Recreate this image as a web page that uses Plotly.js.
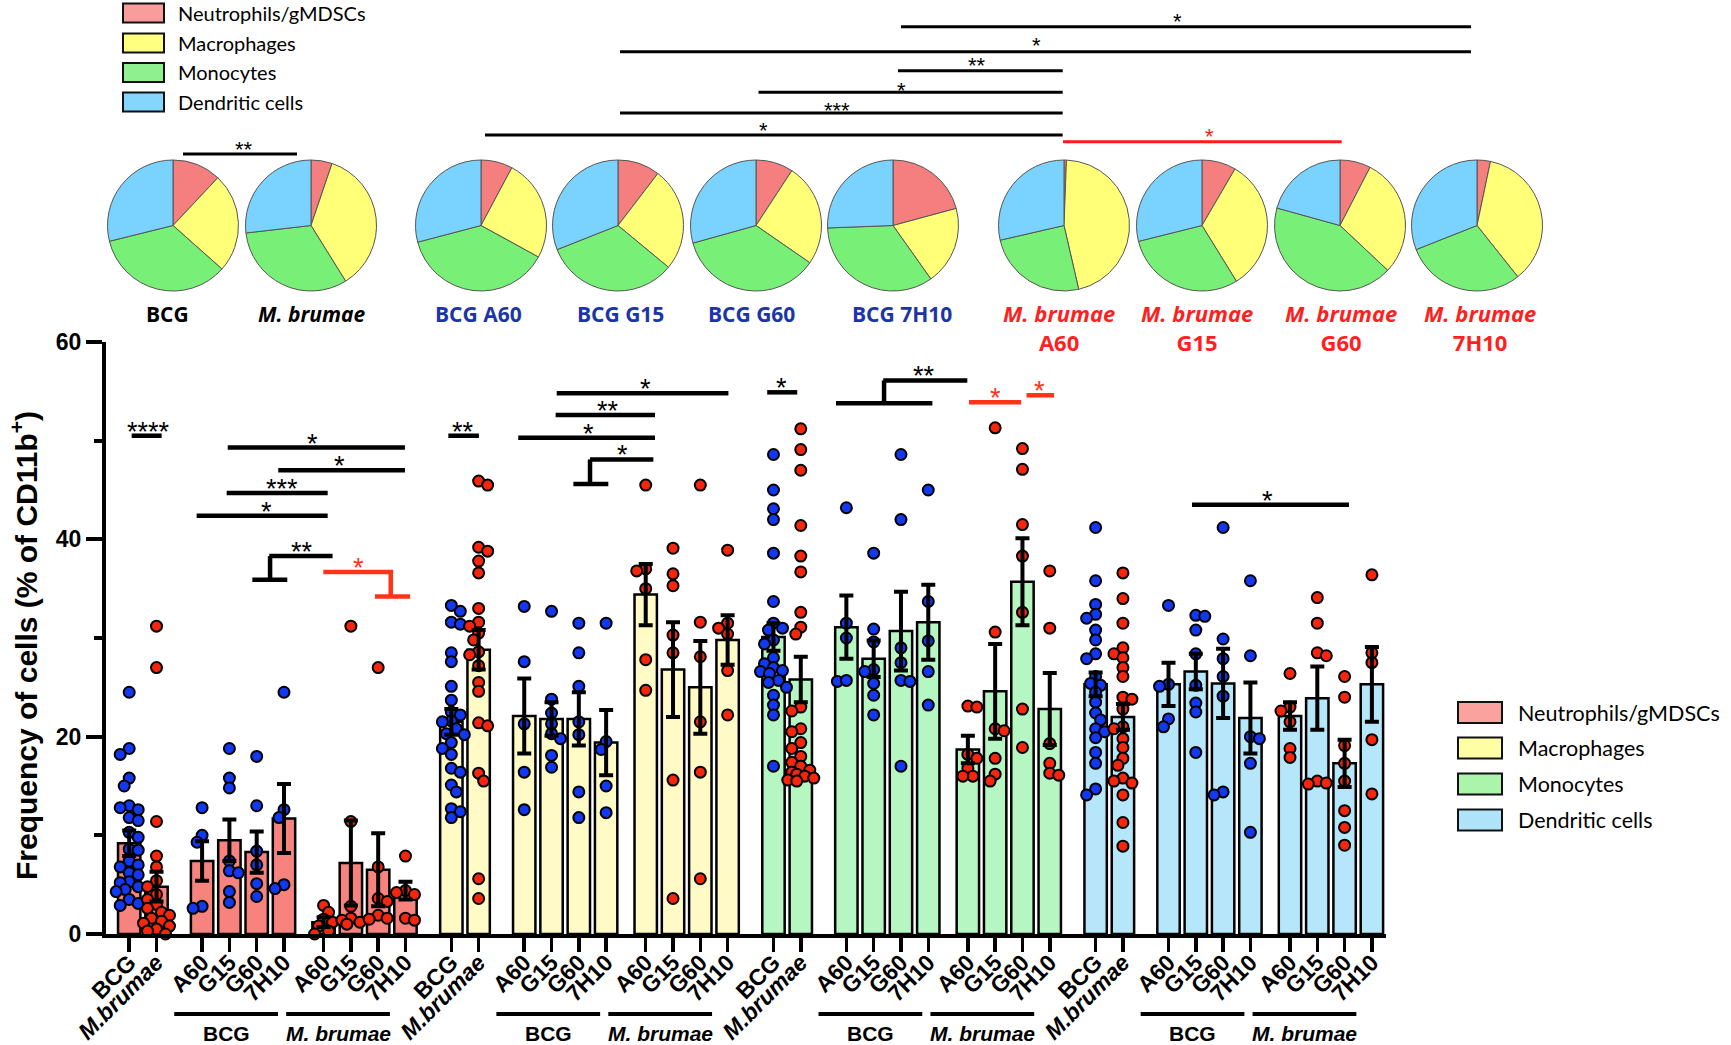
<!DOCTYPE html>
<html><head><meta charset="utf-8">
<script src="https://cdn.plot.ly/plotly-3.0.1.min.js"></script>
<style>html,body{margin:0;padding:0;background:#fff;}#chart{width:1731px;height:1045px;}</style>
</head><body><div id="chart"></div>
<script>
// ---------------- DATA ----------------
const cellTypes = ["Neutrophils/gMDSCs", "Macrophages", "Monocytes", "Dendritic cells"];
const groups = ["BCG", "M.brumae", "BCG A60", "BCG G15", "BCG G60", "BCG 7H10",
                "M. brumae A60", "M. brumae G15", "M. brumae G60", "M. brumae 7H10"];
const tickLabels = ["BCG", "<i>M.brumae</i>", "A60", "G15", "G60", "7H10", "A60", "G15", "G60", "7H10"];
const dotIsBCG = [true, false, true, true, true, true, false, false, false, false];

const neutMean = [9.2, 4.8, 7.4, 9.5, 8.3, 11.7, 1.2, 7.2, 6.5, 4.4];
const neutSem  = [1.3, 1.5, 2.0, 2.1, 2.1, 3.5, 0.5, 4.3, 3.7, 0.9];
const macMean  = [21.5, 28.8, 22.1, 21.8, 21.8, 19.4, 34.4, 26.8, 25.0, 29.8];
const macSem   = [1.3, 2.0, 3.8, 1.7, 2.7, 3.3, 3.1, 4.8, 4.7, 2.5];
const monoMean = [30.1, 25.8, 31.1, 27.9, 30.7, 31.6, 18.7, 24.6, 35.7, 22.8];
const monoSem  = [1.4, 2.3, 3.2, 1.85, 4.0, 3.8, 1.4, 4.8, 4.4, 3.65];
const dcMean   = [25.3, 22.0, 25.3, 26.6, 25.4, 21.9, 22.1, 23.9, 17.3, 25.3];
const dcSem    = [1.2, 1.3, 2.2, 1.8, 3.5, 3.6, 1.4, 3.2, 2.4, 3.8];

const neutDots = [
  [24.5,18.8,18.2,15.8,15.0,13.0,12.8,12.6,11.8,11.5,10.3,9.8,8.6,8.5,7.4,7.0,6.8,6.2,6.0,5.3,5.2,4.8,4.5,4.3,3.5,3.1,2.9],
  [31.2,27.0,11.4,7.9,6.8,5.4,4.8,4.0,3.5,3.0,2.6,2.2,1.9,1.6,1.3,1.1,0.8,0.5,0.3,0.0],
  [12.8,10.0,9.3,2.8,2.6],
  [18.8,15.8,14.8,7.4,6.4,6.2,4.3,3.2],
  [18.0,13.0,8.4,7.0,5.1,3.8],
  [24.5,12.6,11.8,5.0,4.6],
  [2.9,2.2,1.5,1.2,0.8,0.3,0.0],
  [31.2,11.4,2.8,1.6,1.4,1.2,1.0],
  [27.0,6.8,3.6,3.3,1.9,1.6,1.5],
  [7.9,4.4,4.2,4.0,1.6,1.4]
];
const macDots = [
  [33.3,32.7,31.6,31.4,28.5,27.6,25.1,23.7,22.5,22.2,21.6,21.5,20.8,20.3,20.2,19.4,18.8,18.2,16.8,16.4,15.1,14.4,12.7,12.4,11.8],
  [45.9,45.5,39.2,38.8,37.8,36.6,33.0,31.6,31.2,30.5,29.8,28.6,28.3,27.2,25.5,24.6,21.4,21.1,16.3,15.5,5.6,3.6],
  [33.2,27.6,21.3,16.4,12.6],
  [32.7,23.8,22.4,21.3,20.3,19.8,18.1,16.9],
  [31.5,28.5,25.1,21.5,20.2,14.4,11.8],
  [31.5,19.5,18.7,15.0,12.3],
  [45.5,37.0,36.8,35.0,27.8,24.7],
  [39.1,36.5,35.3,30.3,28.5,15.6,3.6],
  [45.5,31.6,28.1,21.5,16.4,5.6],
  [38.9,31.5,31.0,30.4,26.7,22.2]
];
const monoDots = [
  [48.6,45.0,43.1,42.0,38.6,33.7,31.5,31.0,30.8,29.8,29.4,28.0,27.4,27.0,26.7,26.6,26.4,25.7,25.5,25.0,24.2,23.2,22.2,17.0],
  [51.2,49.1,47.0,41.4,38.3,36.7,32.6,31.1,30.4,23.0,22.6,20.8,20.5,19.4,18.8,18.0,17.4,17.0,16.6,16.4,16.2,16.0,15.8,15.6,15.5],
  [43.2,31.5,30.0,25.6,25.7],
  [38.6,30.9,29.6,26.8,26.6,25.4,24.2,22.2],
  [48.6,42.0,29.0,27.5,25.7,25.6,17.0],
  [45.0,33.7,29.7,26.6,23.2],
  [23.1,23.0,18.2,17.8,16.8,16.0,16.0],
  [51.3,30.6,20.8,20.6,17.8,16.2,15.5],
  [49.2,47.1,41.5,38.3,32.6,22.8,18.9],
  [36.8,31.0,19.3,17.3,16.3,16.1]
];
const dcDots = [
  [41.2,35.8,33.4,32.4,32.0,30.8,29.8,28.4,27.9,26.1,25.4,25.2,24.5,23.5,22.4,21.7,20.8,20.5,19.9,18.4,17.3,14.7,14.1],
  [36.6,34.0,31.5,29.0,28.4,28.0,27.0,26.1,24.0,23.8,22.8,21.0,20.8,19.8,18.9,17.8,17.1,15.8,15.5,15.3,14.1,11.3,8.9],
  [33.3,25.3,25.1,21.8,21.0],
  [32.3,32.2,30.8,28.4,25.2,23.4,22.5,18.4],
  [41.2,29.9,27.9,26.1,24.1,14.4,14.1],
  [35.8,28.2,20.0,19.8,17.3,10.3],
  [26.4,23.0,22.6,21.5,18.8,17.9],
  [34.1,31.5,28.5,28.2,15.5,15.3,15.2],
  [26.1,24.0,19.1,17.3,15.5,12.5,10.8,9.0],
  [36.4,28.5,27.5,19.7,14.2]
];

// pie chart composition (% of CD11b+), order: neutrophils, macrophages, monocytes, DCs
const pieBCG      = [12.0, 24.6, 34.6, 28.9];
const pieMb       = [5.2, 35.9, 32.0, 26.8];
const pieBCGA60   = [7.8, 25.2, 37.9, 29.1];
const pieBCGG15   = [10.4, 25.6, 33.0, 31.0];
const pieBCGG60   = [9.2, 25.4, 36.0, 29.3];
const pieBCG7H10  = [20.8, 19.4, 34.2, 25.6];
const pieMbA60    = [0.6, 45.8, 25.0, 28.6];
const pieMbG15    = [8.4, 32.8, 29.9, 28.9];
const pieMbG60    = [7.6, 29.4, 42.3, 20.7];
const pieMb7H10   = [3.3, 36.0, 29.7, 31.0];

// ---------------- LAYOUT HELPERS ----------------
const W = 1731, H = 1045;
const U0 = 129.2, UPX = 27.3;          // pixel of x=0 and px per x unit
const YPX = 9.87;                       // px per y unit
const OFFS = [0, 1, 2.67, 3.67, 4.67, 5.67, 7.12, 8.12, 9.12, 10.12];
const STRIDE = 11.8;
const FONT = "Liberation Sans, Arial, sans-serif";
const CAL = "Lato, 'Open Sans', sans-serif";

const barCols  = ["#f6837e", "#fffac6", "#b6f6c3", "#b5e6f9"];
const pieCols  = ["#f57f7f", "#ffff78", "#78f078", "#7ad2ff"];
const leg1Cols = ["#f89c9c", "#ffff80", "#8ef08e", "#84d6ff"];
const leg2Cols = ["#f9a29e", "#ffffa6", "#aaf5aa", "#aee3fa"];
const BLUE = "#1238f2", RED = "#f5260c";

const means = [neutMean, macMean, monoMean, dcMean];
const sems  = [neutSem, macSem, monoSem, dcSem];
const dots  = [neutDots, macDots, monoDots, dcDots];

function swarm(vals, cx) {
  const placed = [], res = new Array(vals.length);
  const order = vals.map((v, i) => i).sort((a, b) => vals[b] - vals[a]);
  const cands = [0, -5, 5, -9, 9, -13, 13];
  order.forEach((i, k) => {
    const vy = vals[i] * YPX;
    let chosen = null;
    for (const c0 of cands) {
      const c = (k % 2 ? -c0 : c0);
      if (placed.every(p => Math.hypot(p[0] - c, p[1] - vy) >= 8.5)) { chosen = c; break; }
    }
    if (chosen === null) chosen = (k % 2 ? 4 : -4);
    placed.push([chosen, vy]);
    res[i] = cx + chosen / UPX;
  });
  return res;
}

const traces = [];
const tickvals = [], ticktext = [];
for (let t = 0; t < 4; t++) {
  const xs = OFFS.map(o => t * STRIDE + o);
  xs.forEach((x, i) => { tickvals.push(x); ticktext.push(tickLabels[i]); });
  traces.push({type: "bar", x: xs, y: means[t], width: 0.82, hoverinfo: "skip",
    marker: {color: barCols[t], line: {color: "#000", width: 2.5}}, showlegend: false});
}
for (let t = 0; t < 4; t++) {
  const bx = [], by = [], rx = [], ry = [];
  dots[t].forEach((vals, g) => {
    const cx = t * STRIDE + OFFS[g];
    const jx = swarm(vals, cx);
    vals.forEach((v, i) => {
      if (dotIsBCG[g]) { bx.push(jx[i]); by.push(v); } else { rx.push(jx[i]); ry.push(v); }
    });
  });
  [[bx, by, BLUE], [rx, ry, RED]].forEach(([x, y, c]) => traces.push({type: "scatter", mode: "markers",
    x, y, cliponaxis: false, hoverinfo: "skip", showlegend: false,
    marker: {size: 11, color: c, line: {color: "#000", width: 2}}}));
}
for (let t = 0; t < 4; t++) {
  traces.push({type: "scatter", mode: "markers", x: OFFS.map(o => t * STRIDE + o), y: means[t],
    cliponaxis: false, hoverinfo: "skip", showlegend: false,
    marker: {size: 2, color: "rgba(0,0,0,0)"},
    error_y: {type: "data", array: sems[t], visible: true, color: "#000", thickness: 4, width: 7}});
}

// pies
const pieData = [pieBCG, pieMb, pieBCGA60, pieBCGG15, pieBCGG60, pieBCG7H10, pieMbA60, pieMbG15, pieMbG60, pieMb7H10];
const pieCX = [173, 311, 481, 618, 756, 893, 1064, 1202, 1340, 1477];
const PCY = 225.5, PR = 65.5;
pieData.forEach((vals, i) => {
  traces.push({type: "pie", values: vals, labels: cellTypes, sort: false, direction: "clockwise",
    rotation: 0, textinfo: "none", hoverinfo: "skip", showlegend: false,
    marker: {colors: pieCols, line: {color: "#555", width: 1}},
    domain: {x: [(pieCX[i] - PR) / W, (pieCX[i] + PR) / W], y: [1 - (PCY + PR) / H, 1 - (PCY - PR) / H]}});
});

// ---------------- ANNOTATIONS / SHAPES ----------------
const ann = [], shp = [];
function txt(text, xpx, ypx, size, color, family, extra) {
  ann.push(Object.assign({text, x: xpx / W, y: 1 - ypx / H, xref: "paper", yref: "paper", showarrow: false,
    xanchor: "center", yanchor: "middle", font: {size, color: color || "#000", family: family || FONT}}, extra || {}));
}
function pline(x1, x2, y, w, c) {
  shp.push({type: "line", xref: "paper", yref: "paper", x0: x1 / W, x1: x2 / W, y0: 1 - y / H, y1: 1 - y / H,
    line: {color: c || "#000", width: w}});
}
function dline(x0, y0, x1, y1, c) {
  shp.push({type: "line", xref: "x", yref: "y", x0, y0, x1, y1, line: {color: c || "#000", width: 4.5}});
}
function dstar(u, y, text, c) {
  ann.push({text, x: u, y, xref: "x", yref: "y", showarrow: false, xanchor: "center", yanchor: "middle",
    yshift: 4, borderpad: 0, font: {size: 27, color: c || "#000", family: FONT}});
}
function pstar(xpx, ypx, text, c) { txt(text, xpx, ypx + 5, 22, c || "#000", FONT, {borderpad: 0}); }

// top-left legend
const legY1 = [13, 43, 72.5, 102];
cellTypes.forEach((n, i) => {
  shp.push({type: "rect", xref: "paper", yref: "paper", x0: 123 / W, x1: 164 / W,
    y0: 1 - (legY1[i] + 9.5) / H, y1: 1 - (legY1[i] - 9.5) / H, fillcolor: leg1Cols[i], line: {color: "#111", width: 2}});
  txt(n, 176, legY1[i], 20, "#000", CAL, {xanchor: "left"});
});
// right legend
const legY2 = [712.5, 748, 784, 820];
cellTypes.forEach((n, i) => {
  shp.push({type: "rect", xref: "paper", yref: "paper", x0: 1458 / W, x1: 1502 / W,
    y0: 1 - (legY2[i] + 10.5) / H, y1: 1 - (legY2[i] - 10.5) / H, fillcolor: leg2Cols[i], line: {color: "#111", width: 2}});
  txt(n, 1516, legY2[i], 21.5, "#000", CAL, {xanchor: "left"});
});

// pie labels
const PL = "'Open Sans', sans-serif";
txt("<b>BCG</b>", 167, 314, 21, "#000", PL);
txt("<b><i>M. brumae</i></b>", 311, 314, 21, "#000", PL);
const bcgLab = ["BCG A60", "BCG G15", "BCG G60", "BCG 7H10"];
[479, 620, 751, 902].forEach((x, i) => txt("<b>" + bcgLab[i] + "</b>", x, 314, 21, "#1c35a6", PL));
const mbLab = ["A60", "G15", "G60", "7H10"];
[1059, 1197, 1341, 1480].forEach((x, i) => txt("<b><i>M. brumae</i><br>" + mbLab[i] + "</b>", x, 327.5, 22, "#ff1f1f", PL));

// top significance lines (pies)
pline(183, 297, 154, 3); pstar(243.6, 145, "**");
pline(485, 1062.7, 135, 3); pstar(763, 126, "*");
pline(620, 1062.7, 113, 3); pstar(837, 105, "***");
pline(758.5, 1062.7, 92.3, 3); pstar(901, 86, "*");
pline(898, 1062.7, 70.7, 3); pstar(976.7, 61, "**");
pline(620, 1471, 51.7, 3); pstar(1036, 41, "*");
pline(901, 1471, 26.7, 3); pstar(1177.7, 17, "*");
pline(1063, 1341.7, 141.7, 3, "#ff1a1a"); pstar(1209, 131, "*", "#ff1a1a");

// bar-chart significance (neutrophils)
dline(0.09, 50.5, 1.19, 50.5); dstar(0.7, 50.5, "****");
dline(3.61, 49.3, 10.10, 49.3); dstar(6.73, 49.3, "*");
dline(5.46, 47.0, 10.10, 47.0); dstar(7.69, 47.0, "*");
dline(3.57, 44.7, 7.27, 44.7); dstar(5.59, 44.7, "***");
dline(2.47, 42.4, 7.27, 42.4); dstar(5.04, 42.4, "*");
dline(5.13, 38.3, 7.45, 38.3); dline(5.16, 38.3, 5.16, 35.9); dline(4.51, 35.9, 5.79, 35.9); dstar(6.32, 38.3, "**");
const RS = "#ff3318";
dline(7.11, 36.7, 9.67, 36.7, RS); dline(9.58, 36.7, 9.58, 34.2, RS); dline(9.0, 34.2, 10.29, 34.2, RS); dstar(8.39, 36.7, "*", RS);
// macrophages
dline(11.69, 50.5, 12.81, 50.5); dstar(12.23, 50.5, "**");
dline(15.66, 54.8, 21.95, 54.8); dstar(18.93, 54.8, "*");
dline(15.62, 52.6, 19.26, 52.6); dstar(17.55, 52.6, "**");
dline(14.25, 50.3, 19.26, 50.3); dstar(16.82, 50.3, "*");
dline(16.88, 48.1, 19.2, 48.1); dline(16.88, 48.1, 16.88, 45.6); dline(16.27, 45.6, 17.55, 45.6); dstar(18.08, 48.1, "*");
// monocytes
dline(23.37, 54.9, 24.47, 54.9); dstar(23.9, 54.9, "*");
dline(27.62, 56.1, 30.7, 56.1); dline(27.65, 56.1, 27.65, 53.8); dline(25.89, 53.8, 29.42, 53.8); dstar(29.11, 56.1, "**");
dline(30.76, 53.9, 32.67, 53.9, RS); dstar(31.74, 53.9, "*", RS);
dline(32.87, 54.6, 33.88, 54.6, RS); dstar(33.35, 54.6, "*", RS);
// dendritic cells
dline(38.93, 43.5, 44.68, 43.5); dstar(41.68, 43.5, "*");

// group underlines & labels under x axis
for (let t = 0; t < 4; t++) {
  const b = t * STRIDE;
  shp.push({type: "line", xref: "x", yref: "paper", x0: b + 1.65, x1: b + 5.45, y0: 1 - 1014 / H, y1: 1 - 1014 / H, line: {color: "#000", width: 4}});
  shp.push({type: "line", xref: "x", yref: "paper", x0: b + 5.75, x1: b + 9.55, y0: 1 - 1014 / H, y1: 1 - 1014 / H, line: {color: "#000", width: 4}});
  ann.push({text: "<b>BCG</b>", x: b + 3.55, y: 1 - 1033 / H, xref: "x", yref: "paper", showarrow: false, yanchor: "middle", font: {size: 21, family: FONT}});
  ann.push({text: "<b><i>M. brumae</i></b>", x: b + 7.65, y: 1 - 1033 / H, xref: "x", yref: "paper", showarrow: false, yanchor: "middle", font: {size: 21, family: FONT}});
}
// y-axis title
txt("<b>Frequency of cells (% of CD11b<sup>+</sup>)</b>", 24, 646, 30, "#000", FONT, {textangle: -90});

const layout = {
  width: W, height: H, margin: {l: 0, r: 0, t: 0, b: 0},
  paper_bgcolor: "#fff", plot_bgcolor: "rgba(0,0,0,0)", barmode: "overlay", showlegend: false,
  font: {family: FONT, color: "#000"},
  xaxis: {domain: [106 / W, 1386 / W], range: [(106 - U0) / UPX, (1386 - U0) / UPX], showgrid: false, zeroline: false,
    showline: true, linecolor: "#000", linewidth: 4, ticks: "outside", ticklen: 14, tickwidth: 3.5, tickcolor: "#000",
    tickmode: "array", tickvals, ticktext, tickangle: -45, ticklabelstandoff: -12,
    tickfont: {size: 23, family: FONT, weight: "bold"}},
  yaxis: {domain: [1 - 934 / H, 1 - 342 / H], range: [0, 60], showgrid: false, zeroline: false,
    showline: true, linecolor: "#000", linewidth: 4, ticks: "outside", ticklen: 16, tickwidth: 4, tickcolor: "#000",
    tickmode: "linear", tick0: 0, dtick: 20, tickfont: {size: 23, family: FONT, weight: "bold"},
    minor: {dtick: 10, ticks: "outside", ticklen: 8, tickwidth: 4, tickcolor: "#000"}},
  annotations: ann, shapes: shp
};
Plotly.newPlot("chart", traces, layout, {displayModeBar: false, staticPlot: true});
</script></body></html>
